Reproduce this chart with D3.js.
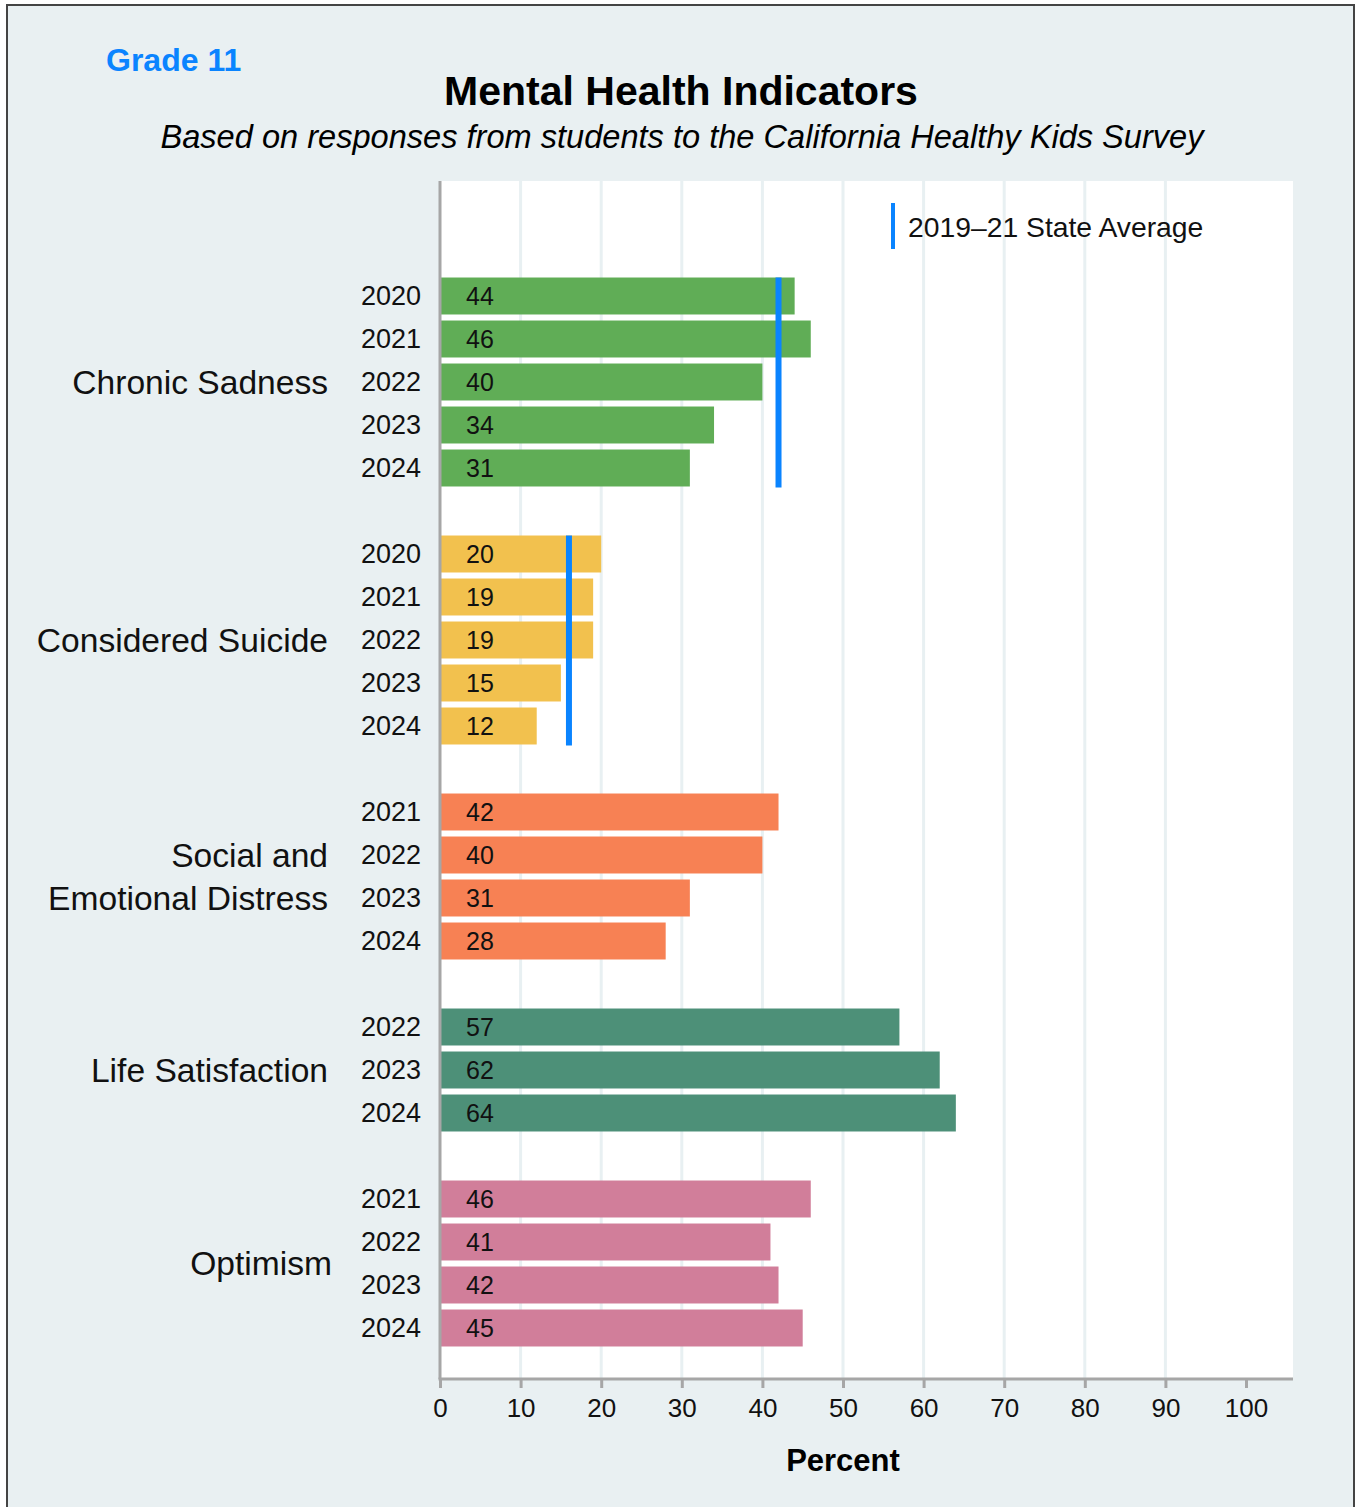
<!DOCTYPE html>
<meta charset="utf-8">
<style>
  body { margin: 0; background: #fff; }
  svg { display: block; font-family: "Liberation Sans", Arial, sans-serif; }
  .grid line { stroke: #e8f0f2; stroke-width: 3; }
  .xaxis .domain { display: none; }
  .xaxis line { stroke: #a6a6a6; stroke-width: 3; }
  .xaxis text { font-size: 26px; fill: #111; }
</style>
<svg width="1357" height="1507"></svg>
<script src="https://d3js.org/d3.v7.min.js"></script>
<script>
// chart values
var groups = ["Chronic Sadness", "Considered Suicide", "Social and Emotional Distress", "Life Satisfaction", "Optimism"];
var groupLabelLines = [["Chronic Sadness"], ["Considered Suicide"], ["Social and", "Emotional Distress"], ["Life Satisfaction"], ["Optimism"]];
var chronicYears = ["2020", "2021", "2022", "2023", "2024"];
var chronicValues = [44, 46, 40, 34, 31];
var suicideYears = ["2020", "2021", "2022", "2023", "2024"];
var suicideValues = [20, 19, 19, 15, 12];
var distressYears = ["2021", "2022", "2023", "2024"];
var distressValues = [42, 40, 31, 28];
var lifeYears = ["2022", "2023", "2024"];
var lifeValues = [57, 62, 64];
var optimismYears = ["2021", "2022", "2023", "2024"];
var optimismValues = [46, 41, 42, 45];
var stateAverage = [42, 16, null, null, null];
var colors = ["#60ad56", "#f2c14e", "#f78154", "#4d9078", "#d17e9a"];
var xTicks = [0, 10, 20, 30, 40, 50, 60, 70, 80, 90, 100];

var yearsByGroup = [chronicYears, suicideYears, distressYears, lifeYears, optimismYears];
var valuesByGroup = [chronicValues, suicideValues, distressValues, lifeValues, optimismValues];

// build rows, with an empty spacer row between groups
var rows = [];
groups.forEach(function(gName, gi) {
  if (gi > 0) rows.push({key: "gap" + gi, spacer: true});
  yearsByGroup[gi].forEach(function(yr, i) {
    rows.push({key: gName + "|" + yr, group: gName, gi: gi, year: yr, value: valuesByGroup[gi][i]});
  });
});
var bars = rows.filter(function(r) { return !r.spacer; });

var svg = d3.select("svg"),
    margin = {top: 181, left: 440},
    plotW = 853, plotH = 1198;

svg.append("rect")
    .attr("x", 7).attr("y", 5)
    .attr("width", 1347).attr("height", 1520)
    .attr("fill", "#e9f0f2")
    .attr("stroke", "#444").attr("stroke-width", 2);

svg.append("text")
    .attr("x", 106).attr("y", 60).attr("dy", "0.35em")
    .attr("font-size", 32).attr("font-weight", "bold").attr("fill", "#0a84ff")
    .text("Grade 11");

svg.append("text")
    .attr("x", 681).attr("y", 91).attr("dy", "0.35em").attr("text-anchor", "middle")
    .attr("font-size", 41).attr("font-weight", "bold").attr("fill", "#000")
    .text("Mental Health Indicators");

svg.append("text")
    .attr("x", 682).attr("y", 137).attr("dy", "0.35em").attr("text-anchor", "middle")
    .attr("font-size", 32.6).attr("font-style", "italic").attr("fill", "#000")
    .text("Based on responses from students to the California Healthy Kids Survey");

var g = svg.append("g").attr("transform", "translate(" + margin.left + "," + margin.top + ")");

var x = d3.scaleLinear().domain([0, 100]).range([0, 806]);

var y = d3.scaleBand()
    .domain(rows.map(function(r) { return r.key; }))
    .range([93.5, 1168.5])
    .paddingInner(0.14)
    .paddingOuter(0.07);

g.append("rect").attr("width", plotW).attr("height", plotH).attr("fill", "#fff");

g.append("g").attr("class", "grid")
  .selectAll("line")
  .data(xTicks.filter(function(t) { return t > 0 && t < 100; }))
  .enter().append("line")
    .attr("x1", x).attr("x2", x)
    .attr("y1", 0).attr("y2", plotH);

// bars
g.selectAll(".bar")
  .data(bars)
  .enter().append("rect")
    .attr("class", "bar")
    .attr("x", x(0))
    .attr("y", function(d) { return y(d.key); })
    .attr("width", function(d) { return x(d.value) - x(0); })
    .attr("height", y.bandwidth())
    .attr("fill", function(d) { return colors[d.gi]; });

g.selectAll(".val")
  .data(bars)
  .enter().append("text")
    .attr("x", 26)
    .attr("y", function(d) { return y(d.key) + y.bandwidth() / 2; })
    .attr("dy", "0.35em")
    .attr("font-size", 25).attr("fill", "#111")
    .text(function(d) { return d.value; });

// year labels
g.selectAll(".yr")
  .data(bars)
  .enter().append("text")
    .attr("x", -19)
    .attr("y", function(d) { return y(d.key) + y.bandwidth() / 2; })
    .attr("dy", "0.35em")
    .attr("text-anchor", "end")
    .attr("font-size", 27).attr("fill", "#111")
    .text(function(d) { return d.year; });

// group labels
groups.forEach(function(gName, gi) {
  var yrs = yearsByGroup[gi];
  var top = y(gName + "|" + yrs[0]);
  var bot = y(gName + "|" + yrs[yrs.length - 1]) + y.bandwidth();
  var mid = (top + bot) / 2;
  var lines = groupLabelLines[gi];
  var t = g.append("text")
      .attr("text-anchor", "end")
      .attr("font-size", 33.6).attr("fill", "#111");
  lines.forEach(function(line, li) {
    t.append("tspan")
      .attr("x", gi === 4 ? -108 : -112)
      .attr("y", mid + (li - (lines.length - 1) / 2) * 43)
      .attr("dy", "0.35em")
      .text(line);
  });
  // state average marker
  if (stateAverage[gi] != null) {
    g.append("line")
      .attr("x1", x(stateAverage[gi])).attr("x2", x(stateAverage[gi]))
      .attr("y1", top).attr("y2", bot + 1)
      .attr("stroke", "#0a84ff").attr("stroke-width", 6);
  }
});

// axes
g.append("line")
    .attr("x1", 0).attr("x2", 0).attr("y1", 0).attr("y2", plotH)
    .attr("stroke", "#a6a6a6").attr("stroke-width", 3);

var xAxis = g.append("g").attr("class", "xaxis")
    .attr("transform", "translate(0," + plotH + ")")
    .call(d3.axisBottom(x).tickValues(xTicks).tickSize(9).tickPadding(11));
xAxis.select(".domain").remove();
g.append("line")
    .attr("x1", -1.5).attr("x2", plotW).attr("y1", plotH).attr("y2", plotH)
    .attr("stroke", "#a6a6a6").attr("stroke-width", 3);

g.append("text")
    .attr("x", x(50)).attr("y", 1460 - margin.top).attr("dy", "0.35em")
    .attr("text-anchor", "middle")
    .attr("font-size", 31).attr("font-weight", "bold").attr("fill", "#000")
    .text("Percent");

// legend
g.append("line")
    .attr("x1", 453).attr("x2", 453).attr("y1", 22).attr("y2", 68)
    .attr("stroke", "#0a84ff").attr("stroke-width", 4);
g.append("text")
    .attr("x", 468).attr("y", 46).attr("dy", "0.35em")
    .attr("font-size", 28.3).attr("fill", "#111")
    .text("2019\u201321 State Average");
</script>
